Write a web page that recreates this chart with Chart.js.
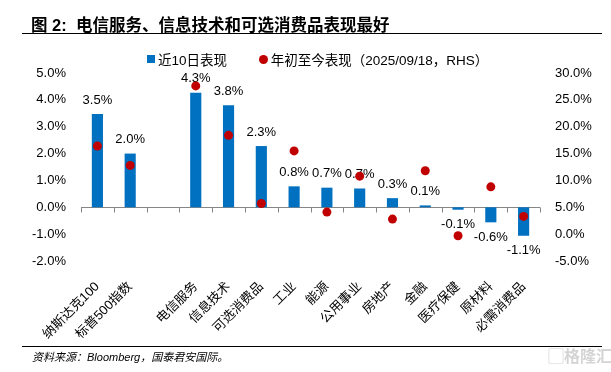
<!DOCTYPE html>
<html>
<head>
<meta charset="utf-8">
<script src="https://cdn.jsdelivr.net/npm/chart.js@4"></script>
<style>
    body { margin: 0; background: #fff; }
    #wrap { position: relative; width: 611px; height: 372px; font-family: 'Liberation Sans', 'Noto Sans CJK SC', sans-serif; }
    #title { position: absolute; left: 31px; top: 12px; font-size: 16.5px; font-weight: bold; color: #000; white-space: nowrap; }
    .rule { position: absolute; left: 22px; width: 580px; height: 0; border-top: 1.5px solid #000; }
    #legend { position: absolute; top: 49px; left: 147px; font-size: 13.5px; color: #000; white-space: nowrap; }
    #legend span { display: inline-block; vertical-align: middle; }
    #source { position: absolute; left: 32px; top: 346px; font-size: 11px; font-style: italic; color: #000; white-space: nowrap; }
    #mark { position: absolute; left: 548px; top: 343px; font-size: 16px; font-weight: bold; color: #d4d4d4; white-space: nowrap; }
    canvas { position: absolute; left: 0; top: 0; }
</style>
</head>
<body>
<div id="wrap">
    <canvas id="chart" width="611" height="372"></canvas>
    <div id="title">图 2:&nbsp; 电信服务、信息技术和可选消费品表现最好</div>
    <div class="rule" style="top:33px"></div>
    <div id="legend">
        <span style="width:8px;height:8px;background:#0070C0;margin-right:3px"></span><span>近10日表现</span>
        <span style="width:9px;height:9px;border-radius:50%;background:#C00000;margin-left:28px;margin-right:3px"></span><span>年初至今表现（2025/09/18，RHS）</span>
    </div>
    <div class="rule" style="top:346px"></div>
    <div id="source" style="top:348px">资料来源：Bloomberg，国泰君安国际。</div>
    <div id="mark">▢格隆汇</div>
</div>
<script>
// chart data
const categories = ['纳斯达克100', '标普500指数', '', '电信服务', '信息技术', '可选消费品', '工业', '能源', '公用事业', '房地产', '金融', '医疗保健', '原材料', '必需消费品'];
const last10Days = [3.47, 2.0, null, 4.26, 3.8, 2.28, 0.78, 0.73, 0.7, 0.34, 0.07, -0.09, -0.56, -1.06];
const yearToDate = [16.4, 12.8, null, 27.6, 18.4, 5.7, 15.5, 4.1, 10.8, 2.8, 11.8, -0.3, 8.8, 3.3];
const leftTicks = [-2, -1, 0, 1, 2, 3, 4, 5];
const rightTicks = [-5, 0, 5, 10, 15, 20, 25, 30];

const fontFamily = "'Liberation Sans', 'Noto Sans CJK SC', sans-serif";

// zero line with tick marks between categories
const zeroAxis = {
    id: 'zeroAxis',
    beforeDatasetsDraw(chart) {
        const ctx = chart.ctx;
        const x = chart.scales.x;
        const y0 = Math.round(chart.scales.y.getPixelForValue(0)) + 0.5;
        const step = (x.right - x.left) / categories.length;
        ctx.save();
        ctx.strokeStyle = '#868686';
        ctx.lineWidth = 1;
        ctx.beginPath();
        ctx.moveTo(x.left, y0);
        ctx.lineTo(x.right, y0);
        for (let i = 0; i <= categories.length; i++) {
            const px = Math.round(x.left + i * step) + 0.5;
            ctx.moveTo(px, y0);
            ctx.lineTo(px, y0 + 5);
        }
        ctx.stroke();
        ctx.restore();
    }
};

// value labels above / below the bars
const barLabels = {
    id: 'barLabels',
    afterDatasetDraw(chart, args) {
        if (args.index !== 0) return;
        const ctx = chart.ctx;
        ctx.save();
        ctx.font = '13px ' + fontFamily;
        ctx.fillStyle = '#000';
        ctx.textAlign = 'center';
        ctx.textBaseline = 'middle';
        args.meta.data.forEach((bar, i) => {
            const v = last10Days[i];
            if (v === null) return;
            const y = v >= 0 ? bar.y - 14 : bar.y + 15;
            ctx.fillText(v.toFixed(1) + '%', bar.x, y);
        });
        ctx.restore();
    }
};

new Chart(document.getElementById('chart'), {
    type: 'bar',
    data: {
        labels: categories,
        datasets: [{
            type: 'bar',
            label: '近10日表现',
            data: last10Days,
            backgroundColor: '#0070C0',
            barPercentage: 0.34,
            categoryPercentage: 1,
            yAxisID: 'y',
            order: 1
        }, {
            type: 'line',
            label: '年初至今表现（2025/09/18，RHS）',
            data: yearToDate,
            showLine: false,
            pointRadius: 4.5,
            pointBackgroundColor: '#C00000',
            pointBorderWidth: 0,
            yAxisID: 'y1',
            order: 0
        }]
    },
    options: {
        responsive: false,
        animation: false,
        layout: { padding: { top: 73, left: 0, right: 0, bottom: 0 } },
        plugins: {
            legend: { display: false },
            tooltip: { enabled: false }
        },
        scales: {
            x: {
                grid: { display: false },
                border: { display: false },
                ticks: {
                    color: '#000',
                    font: { size: 13, family: fontFamily },
                    minRotation: 45,
                    maxRotation: 45,
                    padding: 10,
                    autoSkip: false
                },
                afterFit(s) { s.height = 111; }
            },
            y: {
                position: 'left',
                min: -2,
                max: 5,
                grid: { display: false },
                border: { display: false },
                afterBuildTicks(s) { s.ticks = leftTicks.map(v => ({ value: v })); },
                ticks: {
                    color: '#000',
                    font: { size: 13, family: fontFamily },
                    padding: 7,
                    callback: v => v.toFixed(1) + '%'
                },
                afterFit(s) { s.width = 81; }
            },
            y1: {
                position: 'right',
                min: -5,
                max: 30,
                grid: { display: false },
                border: { display: false },
                afterBuildTicks(s) { s.ticks = rightTicks.map(v => ({ value: v })); },
                ticks: {
                    color: '#000',
                    font: { size: 13, family: fontFamily },
                    padding: 7,
                    callback: v => v.toFixed(1) + '%'
                },
                afterFit(s) { s.width = 71; }
            }
        }
    },
    plugins: [zeroAxis, barLabels]
});
</script>
</body>
</html>
